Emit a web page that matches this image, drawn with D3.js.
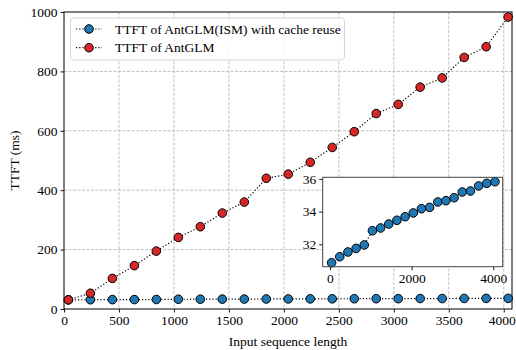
<!DOCTYPE html>
<html><head><meta charset="utf-8">
<script src="https://cdn.jsdelivr.net/npm/d3@7"></script>
<style>body{margin:0;background:#fff}text{font-family:"Liberation Serif","Times New Roman",serif;fill:#000}</style>
</head><body><svg id="c" width="516" height="350"></svg>
<script>
const seqLen = [40,240,440,640,840,1040,1240,1440,1640,1840,2040,2240,2440,2640,2840,3040,3240,3440,3640,3840,4040];
const ttftISM = [30.87,31.24,31.53,31.75,31.96,32.83,33.0,33.24,33.47,33.69,33.92,34.18,34.26,34.59,34.67,34.85,35.20,35.26,35.57,35.73,35.83];
const ttftBase = [30.9,53,103,146,195,241,277,323,360,440,454,494,544,597,658,689,747,778,847,883,983];
const seriesNames = ["TTFT of AntGLM(ISM) with cache reuse","TTFT of AntGLM"];
const seriesColors = ["#1f77b4","#d62728"];
const xTicks = [0,500,1000,1500,2000,2500,3000,3500,4000];
const yTicks = [0,200,400,600,800,1000];
const insetXTicks = [0,2000,4000];
const insetYTicks = [32,34,36];

const svg = d3.select("#c");
const L=64,R=512,T=12,B=309;
const x = d3.scaleLinear().domain([0,4075]).range([L,R]);
const y = d3.scaleLinear().domain([0,1000]).range([B,T]);
const fs = 13.5;

// grid
const g = svg.append("g");
g.selectAll(".gx").data(xTicks.filter(d=>d>0)).enter().append("line")
 .attr("x1",d=>x(d)).attr("x2",d=>x(d)).attr("y1",T).attr("y2",B)
 .attr("stroke","#b0b0b0").attr("stroke-width",0.8).attr("stroke-dasharray","3,1.5");
g.selectAll(".gy").data(yTicks.filter(d=>d>0&&d<1000)).enter().append("line")
 .attr("x1",L).attr("x2",R).attr("y1",d=>y(d)).attr("y2",d=>y(d))
 .attr("stroke","#b0b0b0").attr("stroke-width",0.8).attr("stroke-dasharray","3,1.5");

// axes
const ax = svg.append("g").attr("transform",`translate(0,${B})`)
 .call(d3.axisBottom(x).tickValues(xTicks).tickSize(3.5).tickPadding(3).tickFormat(d3.format("d")));
const ay = svg.append("g").attr("transform",`translate(${L},0)`)
 .call(d3.axisLeft(y).tickValues(yTicks).tickSize(3.5).tickPadding(3).tickFormat(d3.format("d")));
[ax,ay].forEach(a=>{a.select(".domain").remove();a.selectAll("text").attr("font-size",fs).style("font-family","Liberation Serif");a.selectAll("line").attr("stroke","#000").attr("stroke-width",0.9);});
ax.selectAll(".tick text").filter(d=>d===4000).attr("dx",-2);
svg.append("rect").attr("x",L).attr("y",T).attr("width",R-L).attr("height",B-T)
 .attr("fill","none").attr("stroke","#000").attr("stroke-width",1);

svg.append("text").attr("x",(L+R)/2).attr("y",346).attr("text-anchor","middle").attr("font-size",fs).text("Input sequence length");
svg.append("text").attr("transform",`translate(19,${(T+B)/2}) rotate(-90)`).attr("text-anchor","middle").attr("font-size",fs).text("TTFT (ms)");

function drawSeries(parent,xs,ys,vals,color,r){
  const line = d3.line().x((d,i)=>xs(seqLen[i])).y(d=>ys(d));
  parent.append("path").datum(vals).attr("d",line).attr("fill","none")
   .attr("stroke","#000").attr("stroke-width",1.2).attr("stroke-dasharray","1.2,2");
  parent.selectAll(null).data(vals).enter().append("circle")
   .attr("cx",(d,i)=>xs(seqLen[i])).attr("cy",d=>ys(d)).attr("r",r)
   .attr("fill",color).attr("stroke","#000").attr("stroke-width",1);
}
drawSeries(svg,x,y,ttftISM,seriesColors[0],4.3);
drawSeries(svg,x,y,ttftBase,seriesColors[1],4.3);

// legend
const lg = svg.append("g");
lg.append("rect").attr("x",70.5).attr("y",18).attr("width",274).attr("height",42).attr("rx",3)
 .attr("fill","#fff").attr("fill-opacity",0.85).attr("stroke","#d0d0d0").attr("stroke-width",0.9);
seriesNames.forEach((n,i)=>{
  const cy = 29+i*18.7;
  lg.append("line").attr("x1",76).attr("x2",102).attr("y1",cy).attr("y2",cy)
   .attr("stroke","#000").attr("stroke-width",1.2).attr("stroke-dasharray","1.2,2");
  lg.append("circle").attr("cx",89).attr("cy",cy).attr("r",4.3).attr("fill",seriesColors[i]).attr("stroke","#000");
  lg.append("text").attr("x",115).attr("y",cy+4.5).attr("font-size",fs).text(n);
});

// inset
const iL=322.7,iR=502.7,iT=177.3,iB=266.7;
const ix = d3.scaleLinear().domain([-178,4230]).range([iL,iR]);
const iy = d3.scaleLinear().domain([30.63,36.1]).range([iB,iT]);
svg.append("rect").attr("x",iL).attr("y",iT).attr("width",iR-iL).attr("height",iB-iT).attr("fill","#fff");
const ig = svg.append("g");
drawSeries(ig,ix,iy,ttftISM,seriesColors[0],4.3);
const iax = svg.append("g").attr("transform",`translate(0,${iB})`)
 .call(d3.axisBottom(ix).tickValues(insetXTicks).tickSize(3.5).tickPadding(3).tickFormat(d3.format("d")));
const iay = svg.append("g").attr("transform",`translate(${iL},0)`)
 .call(d3.axisLeft(iy).tickValues(insetYTicks).tickSize(3.5).tickPadding(3).tickFormat(d3.format("d")));
[iax,iay].forEach(a=>{a.select(".domain").remove();a.selectAll("text").attr("font-size",fs).style("font-family","Liberation Serif");a.selectAll("line").attr("stroke","#000").attr("stroke-width",0.9);});
svg.append("rect").attr("x",iL).attr("y",iT).attr("width",iR-iL).attr("height",iB-iT)
 .attr("fill","none").attr("stroke","#444").attr("stroke-width",1);
</script></body></html>
